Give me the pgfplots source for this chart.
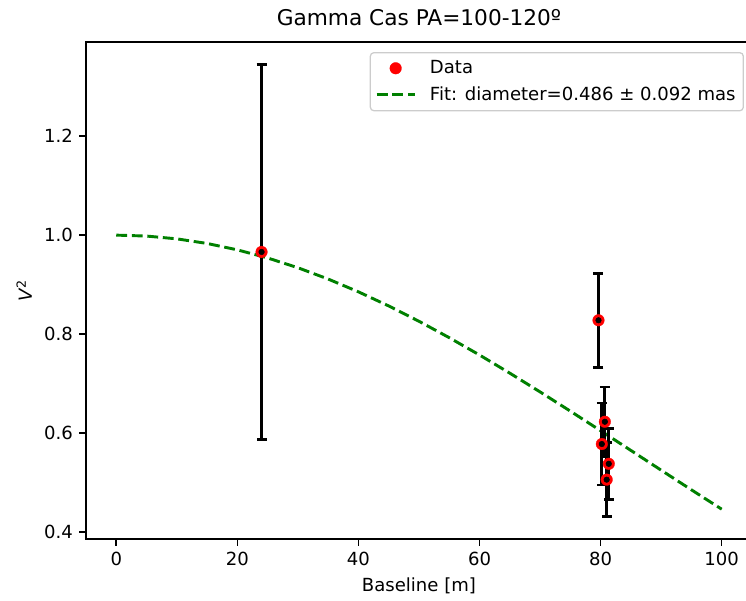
\documentclass[border=0pt]{standalone}
\usepackage{fontspec}
\setmainfont{DejaVu Sans}
\usepackage{pgfplots}
\pgfplotsset{compat=1.18}
\usetikzlibrary{calc}
\definecolor{mplgreen}{HTML}{008000}
\definecolor{mplred}{HTML}{FF0000}
\pgfplotsset{legend image code/.code={\draw[mark repeat=2,mark phase=2,#1] plot coordinates {(0cm,0cm) (0.48cm,0cm) (0.96cm,0cm)};}}
\begin{document}
\fontsize{13}{15.6}\selectfont
\begin{tikzpicture}
\begin{axis}[
 scale only axis, width=479.5pt, height=357.8pt,
 xmin=-5, xmax=105, ymin=0.386, ymax=1.39,
 xtick={0,20,40,60,80,100},
 ytick={0.4,0.6,0.8,1.0,1.2},
 yticklabel style={/pgf/number format/.cd, fixed, fixed zerofill, precision=1},
 /pgf/number format/assume math mode=true,
 tick align=outside, xtick pos=bottom, ytick pos=left,
 major tick length=4.9pt,
 every tick/.style={line width=1.1pt, black},
 axis line style={line width=1.1pt},
 ticklabel style={font=\fontsize{13}{15.6}\selectfont},
 xlabel={Baseline [m]}, ylabel={\textit{V}\textsuperscript{2}},
 label style={font=\fontsize{13}{15.6}\selectfont},
 title={Gamma Cas PA=100-120º},
 title style={font=\fontsize{15.6}{18.7}\selectfont, yshift=1pt},
 legend cell align=left,
 legend style={at={(1,1)}, anchor=north east, xshift=-5.8pt, yshift=-7.2pt,
   draw=black!20, line width=0.9pt, rounded corners=2.5pt, fill=white,
   font=\fontsize{13}{15.6}\selectfont, row sep=3.5pt, column sep=8pt, inner sep=3.5pt},
]
\coordinate (o) at (rel axis cs:0,0);
\addplot[only marks, mark=*, mark size=4.2pt, draw=mplred, fill=mplred,
  mark options={solid, draw=mplred, fill=mplred, line width=0.2pt, opacity=1}] coordinates {
 (24.0,0.966) (79.65,0.828) (80.7,0.623) (80.2,0.578) (81.35,0.538) (81.0,0.506)
};
\addlegendentry{Data}
\addplot[mplgreen, line width=2.1pt, dash pattern=on 7.8pt off 3.4pt] coordinates {
 (0,1.0) (5,0.99812) (10,0.99250) (15,0.98319) (20,0.97027) (25,0.95388)
 (30,0.93415) (35,0.91128) (40,0.88546) (45,0.85695) (50,0.82598)
 (55,0.79284) (60,0.75781) (65,0.72118) (70,0.68329) (75,0.64442)
 (80,0.60490) (85,0.56504) (90,0.52512) (95,0.48544) (100,0.44632)
};
\addlegendentry{Fit: diameter=0.486 ± 0.092 mas}
\addplot[black, only marks, mark=none, forget plot,
 error bars/.cd, y dir=both, y explicit,
 error bar style={line width=2pt, black},
 error mark options={black, line width=2pt, mark size=3.6pt, rotate=90}] coordinates {
 (24.0,0.966) +- (0,0.379)
 (79.65,0.828) +- (0,0.095)
 (80.7,0.623) +- (0,0.070)
 (80.2,0.578) +- (0,0.083)
 (81.35,0.538) +- (0,0.072)
 (81.0,0.506) +- (0,0.075)
};
\end{axis}
\pgfresetboundingbox
\path ($(o)+(-61.9pt,-43.9pt)$) rectangle ++(537.1pt,432pt);
\end{tikzpicture}
\end{document}
